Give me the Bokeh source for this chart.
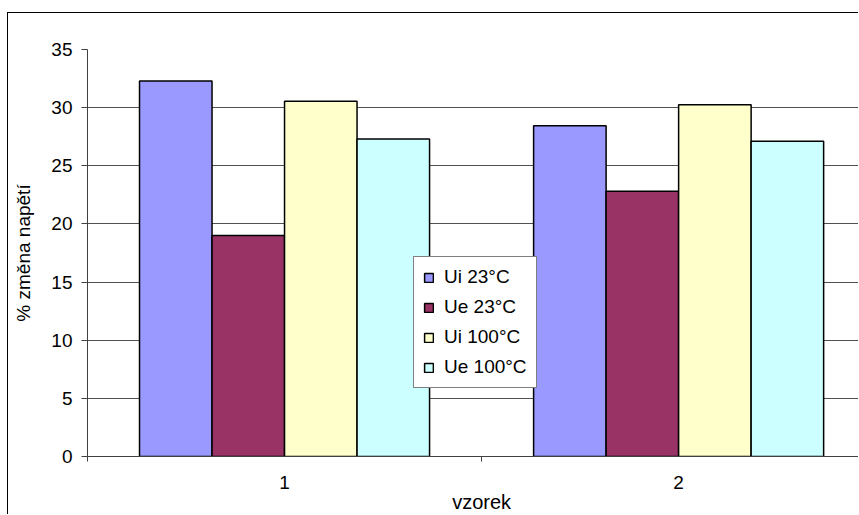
from bokeh.plotting import figure
from bokeh.models import ColumnDataSource, Range1d, FixedTicker, LinearAxis, Legend, LegendItem
from bokeh.transform import dodge
from bokeh.embed import file_html
from bokeh.resources import INLINE

# ---- data ----
categories = ["1", "2"]
series_names = ["Ui 23°C", "Ue 23°C", "Ui 100°C", "Ue 100°C"]
ui_23 = [32.3, 28.45]
ue_23 = [19.0, 22.8]
ui_100 = [30.55, 30.25]
ue_100 = [27.3, 27.1]
y_ticks = [0, 5, 10, 15, 20, 25, 30, 35]
x_title = "vzorek"
y_title = "% změna napětí"

colors = ["#9999FF", "#993366", "#FFFFCC", "#CCFFFF"]
FONT = "Liberation Sans"
FS = "19px"

x_pos = list(range(1, len(categories) + 1))
source = ColumnDataSource(dict(x=x_pos, s0=ui_23, s1=ue_23, s2=ui_100, s3=ue_100))

p = figure(width=851, height=502, output_backend="svg", toolbar_location=None,
           x_range=Range1d(0.5, 2.459), y_range=Range1d(0, 35),
           min_border_left=79, min_border_top=36, min_border_right=0, min_border_bottom=59)
p.outline_line_color = None
p.background_fill_color = "white"
p.border_fill_color = "white"
p.styles = {"border-left": "1px solid black", "border-top": "1px solid black",
            "margin-left": "7px", "margin-top": "12px"}

bar_w = 0.184
offsets = [-1.5 * bar_w, -0.5 * bar_w, 0.5 * bar_w, 1.5 * bar_w]
renderers = []
for i, key in enumerate(["s0", "s1", "s2", "s3"]):
    r = p.vbar(x=dodge("x", offsets[i], range=p.x_range), top=key, width=bar_w, source=source,
               fill_color=colors[i], line_color="black", line_width=1.5)
    renderers.append(r)

# x axis with category labels
xa = p.xaxis[0]
xa.ticker = FixedTicker(ticks=x_pos, minor_ticks=[0.5, 1.5, 2.5])
xa.major_label_overrides = {x: c for x, c in zip(x_pos, categories)}
xa.major_tick_out = 0
xa.major_tick_in = 0
xa.minor_tick_out = 5
xa.minor_tick_in = 0
xa.minor_tick_line_color = "#404040"
xa.axis_line_color = "#404040"
xa.major_label_standoff = 14
xa.major_label_text_font = FONT
xa.major_label_text_font_size = FS
xa.major_label_text_color = "black"

# second axis carrying the title under the middle
xa2 = LinearAxis(ticker=FixedTicker(ticks=[1.5], minor_ticks=[]),
                 major_label_overrides={1.5: x_title},
                 axis_line_color=None, major_tick_line_color=None, minor_tick_line_color=None,
                 major_label_standoff=-7, major_label_text_font=FONT,
                 major_label_text_font_size="20px", major_label_text_color="black")
p.add_layout(xa2, "below")

ya = p.yaxis[0]
ya.ticker = FixedTicker(ticks=y_ticks, minor_ticks=[])
ya.major_tick_out = 6
ya.major_tick_in = 0
ya.major_tick_line_color = "#404040"
ya.axis_line_color = "#404040"
ya.major_label_standoff = 9
ya.major_label_text_font = FONT
ya.major_label_text_font_size = FS
ya.major_label_text_color = "black"
ya.axis_label = y_title
ya.axis_label_text_font = FONT
ya.axis_label_text_font_size = FS
ya.axis_label_text_font_style = "normal"
ya.axis_label_text_color = "black"
ya.axis_label_standoff = 14

p.xgrid.visible = False
p.ygrid.ticker = FixedTicker(ticks=y_ticks, minor_ticks=[])
p.ygrid.grid_line_color = "#505050"
p.ygrid.grid_line_width = 1

legend = Legend(items=[LegendItem(label=n, renderers=[r]) for n, r in zip(series_names, renderers)],
                location=(326, 68), border_line_color="black", border_line_width=1,
                background_fill_color="white", background_fill_alpha=1.0,
                padding=9, spacing=8, label_height=22, glyph_width=11, glyph_height=11,
                label_standoff=10, margin=0, label_text_font=FONT, label_text_font_size=FS,
                label_text_color="black")
p.add_layout(legend, "center")

open("out.html", "w").write(file_html(p, INLINE))
